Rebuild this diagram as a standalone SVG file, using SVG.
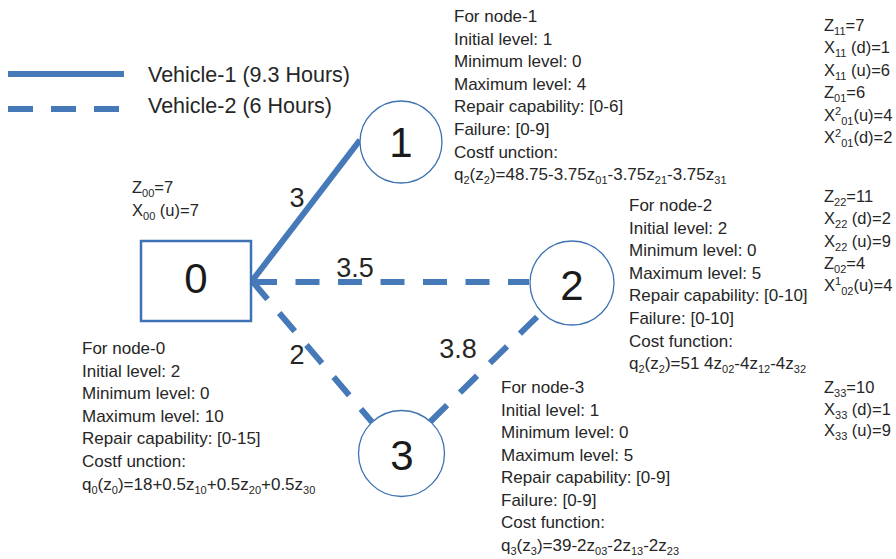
<svg xmlns="http://www.w3.org/2000/svg" width="896" height="559" viewBox="0 0 896 559">
<style>
text{font-family:"Liberation Sans",Arial,sans-serif;fill:#262626}
.b{font-size:17px}
.r{font-size:16.5px}
.s{font-size:11px}
.lg{font-size:21.5px}
.el{font-size:27px;text-anchor:middle}
.nl{font-size:42px;text-anchor:middle;fill:#1a1a1a}
.node{fill:#fff;stroke:#3d72b4;stroke-width:1.3}
.box{fill:#fff;stroke:#3d72b4;stroke-width:2.5}
.solid{stroke:#4679b8;stroke-width:6;fill:none}
.dash{stroke:#4679b8;stroke-width:6;fill:none;stroke-dasharray:24 18}
</style>
<rect width="896" height="559" fill="#fff"/>

<g id="legend">
<line class="solid" x1="8" y1="74" x2="124" y2="74"/>
<line class="dash" x1="8" y1="109" x2="124" y2="109" style="stroke-dasharray:25 18"/>
<text class="lg" x="148" y="82">Vehicle-1 (9.3 Hours)</text>
<text class="lg" x="148" y="113">Vehicle-2 (6 Hours)</text>
</g>

<g id="connectors">
<line class="solid" x1="360" y1="140" x2="252" y2="281"/>
<line class="dash" x1="253" y1="282" x2="529" y2="282" style="stroke-dasharray:24 18.5"/>
<line class="dash" x1="252" y1="281" x2="372" y2="422"/>
<line class="dash" x1="430" y1="422" x2="540" y2="314"/>
<text class="el" x="297" y="207">3</text>
<text class="el" x="355" y="277">3.5</text>
<text class="el" x="297" y="364">2</text>
<text class="el" x="458" y="358">3.8</text>
</g>

<g id="node-0">
<rect class="box" x="141" y="241" width="110" height="80"/>
<text class="nl" x="196" y="293">0</text>
<text class="r" x="132" y="193">Z<tspan class="s" dy="4">00</tspan><tspan dy="-4">=7</tspan></text>
<text class="r" x="132" y="216">X<tspan class="s" dy="4">00</tspan><tspan dy="-4"> (u)=7</tspan></text>
<text class="b" x="82" y="354">For node-0</text>
<text class="b" x="82" y="376.6">Initial level: 2</text>
<text class="b" x="82" y="399.2">Minimum level: 0</text>
<text class="b" x="82" y="421.8">Maximum level: 10</text>
<text class="b" x="82" y="444.4">Repair capability: [0-15]</text>
<text class="b" x="82" y="467">Costf unction:</text>
<text class="b" x="82" y="489.6">q<tspan class="s" dy="4">0</tspan><tspan dy="-4">(z</tspan><tspan class="s" dy="4">0</tspan><tspan dy="-4">)=18+0.5z</tspan><tspan class="s" dy="4">10</tspan><tspan dy="-4">+0.5z</tspan><tspan class="s" dy="4">20</tspan><tspan dy="-4">+0.5z</tspan><tspan class="s" dy="4">30</tspan></text>
</g>

<g id="node-1">
<circle class="node" cx="401" cy="142" r="41"/>
<text class="nl" x="401" y="157">1</text>
<text class="b" x="454" y="22">For node-1</text>
<text class="b" x="454" y="44.6">Initial level: 1</text>
<text class="b" x="454" y="67.2">Minimum level: 0</text>
<text class="b" x="454" y="89.8">Maximum level: 4</text>
<text class="b" x="454" y="112.4">Repair capability: [0-6]</text>
<text class="b" x="454" y="135">Failure: [0-9]</text>
<text class="b" x="454" y="157.6">Costf unction:</text>
<text class="b" x="454" y="180.2">q<tspan class="s" dy="4">2</tspan><tspan dy="-4">(z</tspan><tspan class="s" dy="4">2</tspan><tspan dy="-4">)=48.75-3.75z</tspan><tspan class="s" dy="4">01</tspan><tspan dy="-4">-3.75z</tspan><tspan class="s" dy="4">21</tspan><tspan dy="-4">-3.75z</tspan><tspan class="s" dy="4">31</tspan></text>
<text class="r" x="824" y="31">Z<tspan class="s" dy="4">11</tspan><tspan dy="-4">=7</tspan></text>
<text class="r" x="824" y="53.4">X<tspan class="s" dy="4">11</tspan><tspan dy="-4"> (d)=1</tspan></text>
<text class="r" x="824" y="75.8">X<tspan class="s" dy="4">11</tspan><tspan dy="-4"> (u)=6</tspan></text>
<text class="r" x="824" y="98.2">Z<tspan class="s" dy="4">01</tspan><tspan dy="-4">=6</tspan></text>
<text class="r" x="824" y="120.6">X<tspan class="s" dy="-6">2</tspan><tspan class="s" dy="10">01</tspan><tspan dy="-4">(u)=4</tspan></text>
<text class="r" x="824" y="143">X<tspan class="s" dy="-6">2</tspan><tspan class="s" dy="10">01</tspan><tspan dy="-4">(d)=2</tspan></text>
</g>

<g id="node-2">
<circle class="node" cx="572" cy="283" r="42"/>
<text class="nl" x="572" y="300">2</text>
<text class="b" x="629" y="211">For node-2</text>
<text class="b" x="629" y="233.6">Initial level: 2</text>
<text class="b" x="629" y="256.2">Minimum level: 0</text>
<text class="b" x="629" y="278.8">Maximum level: 5</text>
<text class="b" x="629" y="301.4">Repair capability: [0-10]</text>
<text class="b" x="629" y="324">Failure: [0-10]</text>
<text class="b" x="629" y="346.6">Cost function:</text>
<text class="b" x="629" y="369.2">q<tspan class="s" dy="4">2</tspan><tspan dy="-4">(z</tspan><tspan class="s" dy="4">2</tspan><tspan dy="-4">)=51 4z</tspan><tspan class="s" dy="4">02</tspan><tspan dy="-4">-4z</tspan><tspan class="s" dy="4">12</tspan><tspan dy="-4">-4z</tspan><tspan class="s" dy="4">32</tspan></text>
<text class="r" x="824" y="202">Z<tspan class="s" dy="4">22</tspan><tspan dy="-4">=11</tspan></text>
<text class="r" x="824" y="224.3">X<tspan class="s" dy="4">22</tspan><tspan dy="-4"> (d)=2</tspan></text>
<text class="r" x="824" y="246.6">X<tspan class="s" dy="4">22</tspan><tspan dy="-4"> (u)=9</tspan></text>
<text class="r" x="824" y="268.9">Z<tspan class="s" dy="4">02</tspan><tspan dy="-4">=4</tspan></text>
<text class="r" x="824" y="291.2">X<tspan class="s" dy="-6">1</tspan><tspan class="s" dy="10">02</tspan><tspan dy="-4">(u)=4</tspan></text>
</g>

<g id="node-3">
<circle class="node" cx="401.5" cy="453.5" r="43"/>
<text class="nl" x="402" y="470">3</text>
<text class="b" x="501" y="393">For node-3</text>
<text class="b" x="501" y="415.5">Initial level: 1</text>
<text class="b" x="501" y="438">Minimum level: 0</text>
<text class="b" x="501" y="460.5">Maximum level: 5</text>
<text class="b" x="501" y="483">Repair capability: [0-9]</text>
<text class="b" x="501" y="505.5">Failure: [0-9]</text>
<text class="b" x="501" y="528">Cost function:</text>
<text class="b" x="501" y="550.5">q<tspan class="s" dy="4">3</tspan><tspan dy="-4">(z</tspan><tspan class="s" dy="4">3</tspan><tspan dy="-4">)=39-2z</tspan><tspan class="s" dy="4">03</tspan><tspan dy="-4">-2z</tspan><tspan class="s" dy="4">13</tspan><tspan dy="-4">-2z</tspan><tspan class="s" dy="4">23</tspan></text>
<text class="r" x="824" y="393">Z<tspan class="s" dy="4">33</tspan><tspan dy="-4">=10</tspan></text>
<text class="r" x="824" y="414.5">X<tspan class="s" dy="4">33</tspan><tspan dy="-4"> (d)=1</tspan></text>
<text class="r" x="824" y="436">X<tspan class="s" dy="4">33</tspan><tspan dy="-4"> (u)=9</tspan></text>
</g>
</svg>
